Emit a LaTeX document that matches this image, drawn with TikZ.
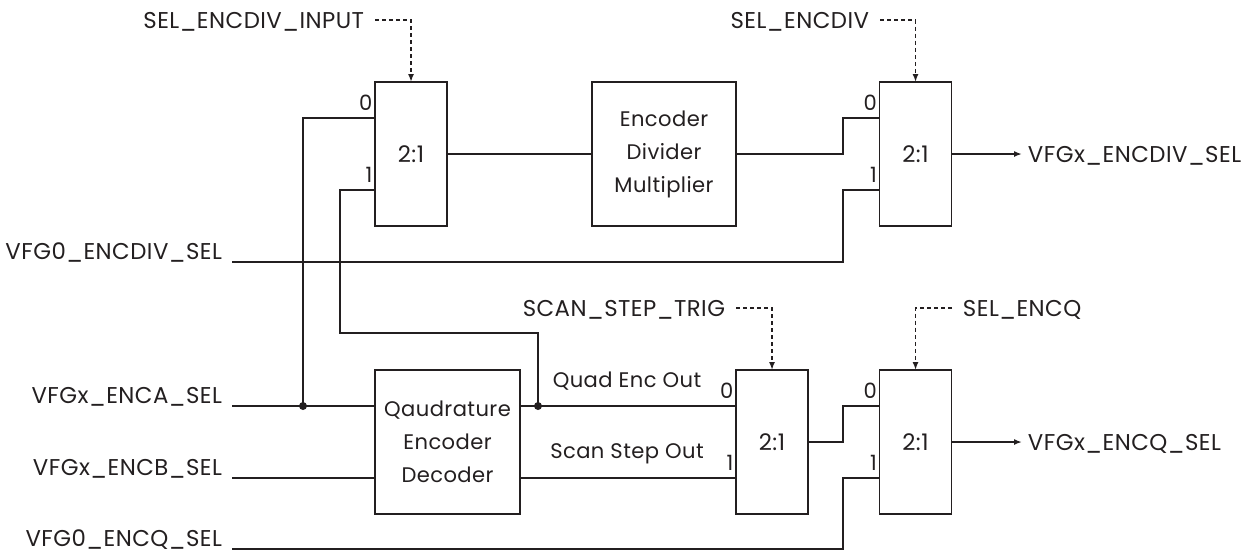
\documentclass[tikz,border=0pt]{standalone}
\usepackage{fontspec}
\setmainfont{Poppins}[LetterSpace=2]
\usepackage{tikz}
\usetikzlibrary{arrows.meta, positioning, calc}
\usepackage{xcolor}
\definecolor{wire}{HTML}{231F20}

\begin{document}
\begin{tikzpicture}[x=0.02cm, y=-0.02cm, line width=1.1pt, color=wire,
      every node/.style={font=\fontsize{13}{18.8}\selectfont},
      blk/.style={draw, outer sep=0pt, minimum height=2.88cm, align=center,
                  font=\fontsize{12}{18.8}\selectfont},
      mux/.style={blk, minimum width=1.44cm, font=\fontsize{13}{15}\selectfont},
      pinlbl/.style={anchor=south east, font=\fontsize{12}{14}\selectfont,
                     inner xsep=1pt, inner ysep=4pt},
      inlbl/.style={anchor=south east, inner sep=0pt, outer xsep=0.2cm, outer ysep=0pt},
      outlbl/.style={anchor=west, inner xsep=0.1cm, text depth=0pt},
      ctllbl/.style={inner xsep=0.2cm, text depth=0pt},
      midlbl/.style={text depth=0pt, font=\fontsize{12}{14}\selectfont},
      dot/.style={circle, fill, inner sep=0pt, minimum size=1.6mm},
      arr/.style={-{Latex[length=1.6mm, width=1.2mm]}},
      ctl/.style={dash pattern=on 2.3pt off 1.7pt, -{Latex[length=1.6mm, width=1.2mm]}}
    ]
      \useasboundingbox (0,0) rectangle (1256,559);

      % blocks
      \node[mux] (mA) at (411, 154) {2:1};
      \node[blk, minimum width=2.88cm] (edm) at (664, 154) {Encoder\\Divider\\Multiplier};
      \node[mux] (mB) at (915.5, 154) {2:1};
      \node[blk, minimum width=2.9cm] (qed) at (447.5, 442) {Qaudrature\\Encoder\\Decoder};
      \node[mux] (mC) at (772, 442) {2:1};
      \node[mux] (mD) at (915.5, 442) {2:1};

      % mux inputs 0 / 1
      \foreach \m in {mA,mB,mC,mD}{
        \coordinate (\m0) at ($(\m.west)!0.5!(\m.north west)$);
        \coordinate (\m1) at ($(\m.west)!0.5!(\m.south west)$);
        \node[pinlbl] (\m-p0) at (\m0) {0};
        \node[pinlbl] (\m-p1) at (\m1) {1};
      }
      \coordinate (qed0) at ($(qed.west)!0.5!(qed.north west)$);
      \coordinate (qed1) at ($(qed.west)!0.5!(qed.south west)$);
      \coordinate (qedo0) at ($(qed.east)!0.5!(qed.north east)$);
      \coordinate (qedo1) at ($(qed.east)!0.5!(qed.south east)$);
      \coordinate (bx) at (843, 0);

      % signal names
      \node[inlbl] (vfgDiv) at (232, 262) {VFG0\_ENCDIV\_SEL};
      \node[inlbl] (vfgA) at (232, 406) {VFGx\_ENCA\_SEL};
      \node[inlbl] (vfgB) at (232, 478) {VFGx\_ENCB\_SEL};
      \node[inlbl] (vfgQ) at (232, 549) {VFG0\_ENCQ\_SEL};
      \node[outlbl] (outDiv) at (1022, 154) {VFGx\_ENCDIV\_SEL};
      \node[outlbl] (outQ) at (1022, 442) {VFGx\_ENCQ\_SEL};
      \node[ctllbl, anchor=east] (selDivIn) at (375, 20) {SEL\_ENCDIV\_INPUT};
      \node[ctllbl, anchor=east] (selDiv) at (880, 20) {SEL\_ENCDIV};
      \node[ctllbl, anchor=east] (scanTrig) at (736, 308) {SCAN\_STEP\_TRIG};
      \node[ctllbl, anchor=west] (selQ) at (952, 308) {SEL\_ENCQ};
      \node[midlbl] (quadOut) at (627, 380) {Quad Enc Out};
      \node[midlbl] (scanOut) at (627, 451) {Scan Step Out};

      \node[dot] (jA) at (303, 406) {};
      \node[dot] (jB) at (538, 406) {};

      % wires
      \draw (vfgA.south east) -- (qed0);
      \draw (vfgB.south east) -- (qed1);
      \draw (jA.center) |- (mA0);
      \draw (jB.center) |- (340, 333) |- (mA1);
      \draw (qedo0) -- (mC0);
      \draw (qedo1) -- (mC1);
      \draw (mA.east) -- (edm.west);
      \draw (edm.east) -- (edm.east -| bx) |- (mB0);
      \draw (vfgDiv.south east) -- (vfgDiv.south east -| bx) |- (mB1);
      \draw (mC.east) -- (mC.east -| bx) |- (mD0);
      \draw (vfgQ.south east) -- (vfgQ.south east -| bx) |- (mD1);
      \draw[arr] (mB.east) -- (outDiv.west);
      \draw[arr] (mD.east) -- (outQ.west);

      % select lines
      \draw[ctl] (selDivIn.east) -| (mA.north);
      \draw[ctl] (selDiv.east) -| (mB.north);
      \draw[ctl] (scanTrig.east) -| (mC.north);
      \draw[ctl] (selQ.west) -| (mD.north);
\end{tikzpicture}
\end{document}
